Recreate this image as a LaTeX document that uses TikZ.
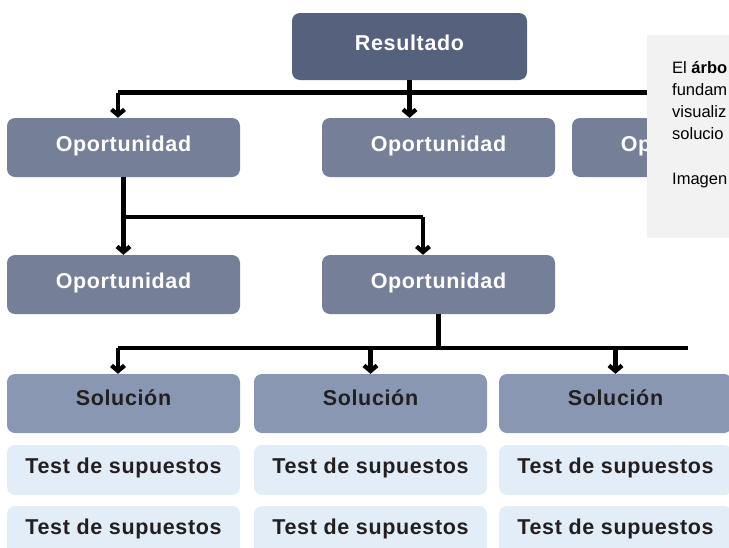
\documentclass[tikz,border=0pt]{standalone}
\usepackage{fontspec}
\setmainfont{Liberation Sans}
\newfontfamily\boxfont{Liberation Sans}[LetterSpace=3]
\usepackage{tikz}
\usetikzlibrary{arrows.meta,positioning}

\definecolor{resblue}{HTML}{56617E}
\definecolor{oppblue}{HTML}{767F98}
\definecolor{solblue}{HTML}{8A97B2}
\definecolor{testblue}{HTML}{E3EDF8}
\definecolor{panelgray}{HTML}{F2F2F2}
\definecolor{inkdark}{HTML}{231F20}

\begin{document}
\begin{tikzpicture}[
  x=1pt, y=-1pt,
  box/.style={rectangle, rounded corners=8pt, minimum width=233pt, minimum height=59pt,
    inner sep=0pt, text height=15pt, text depth=8pt,
    font=\boxfont\bfseries\fontsize{21.5}{25}\selectfont},
  result/.style={box, fill=resblue, minimum width=235pt, minimum height=67pt, text=white},
  chance/.style={box, fill=oppblue, text=white},
  answer/.style={box, fill=solblue, text=inkdark, text depth=11pt},
  check/.style={box, fill=testblue, text=inkdark, minimum height=50pt},
  link/.style={line width=4.3pt},
  arrow/.style={link, -{Straight Barb[length=5.5pt, width=13pt]}}
]
\useasboundingbox (0,0) rectangle (729,547);

% Outcome
\node[result] (res) at (409.5,46.5) {Resultado};

% Opportunities, first level
\node[chance] (o1) at (123.5,147.5) {Oportunidad};
\node[chance] (o2) at (438.5,147.5) {Oportunidad};
\node[chance] (o3) at (688.5,147.5) {Oportunidad};

% Opportunities, second level
\node[chance] (p1) at (123.5,284.5) {Oportunidad};
\node[chance] (p2) at (438.5,284.5) {Oportunidad};

% Solutions
\node[answer] (s1) at (123.5,403.5) {Solución};
\node[answer] (s2) at (370.5,403.5) {Solución};
\node[answer] (s3) at (615.5,403.5) {Solución};

% Assumption tests
\node[check] (t1a) at (123.5,470) {Test de supuestos};
\node[check] (t2a) at (370.5,470) {Test de supuestos};
\node[check] (t3a) at (615.5,470) {Test de supuestos};
\node[check] (t1b) at (123.5,531) {Test de supuestos};
\node[check] (t2b) at (370.5,531) {Test de supuestos};
\node[check] (t3b) at (615.5,531) {Test de supuestos};

% Connectors from the outcome
\coordinate (bus1L) at (118,92.5);
\coordinate (bus1R) at (688.5,92.5);
\draw[link] (bus1L) -- (bus1R);
\draw[arrow] (res.south) -- (o2.north -| res.south);
\draw[arrow] (bus1L) -- (bus1L |- o1.north);
\draw[arrow] (bus1R) -- (o3.north);

% Connectors to the second level
\coordinate (bus2R) at (423,217);
\draw[arrow] (o1.south) -- (p1.north);
\draw[link] (o1.south |- bus2R) -- (bus2R);
\draw[arrow] (bus2R) -- (bus2R |- p2.north);

% Connectors to the solutions
\coordinate (bus3L) at (118,348);
\coordinate (bus3R) at (688,348);
\draw[link] (p2.south) -- (p2.south |- bus3L);
\draw[link] (bus3L) -- (bus3R);
\draw[arrow] (bus3L) -- (bus3L |- s1.north);
\draw[arrow] (s2.north |- bus3L) -- (s2.north);
\draw[arrow] (s3.north |- bus3L) -- (s3.north);

% Side panel
\node[fill=panelgray, anchor=north west, minimum width=110pt, minimum height=203pt,
  inner sep=0pt] (info) at (647,35) {};
\node[anchor=base west, inner sep=0pt, align=left,
  font=\fontsize{16.5}{22.2}\selectfont] (infotext) at (672,184)
  {El \textbf{árbo}\\fundam\\visualiz\\solucio\\[22.2pt]Imagen};

\end{tikzpicture}
\end{document}
